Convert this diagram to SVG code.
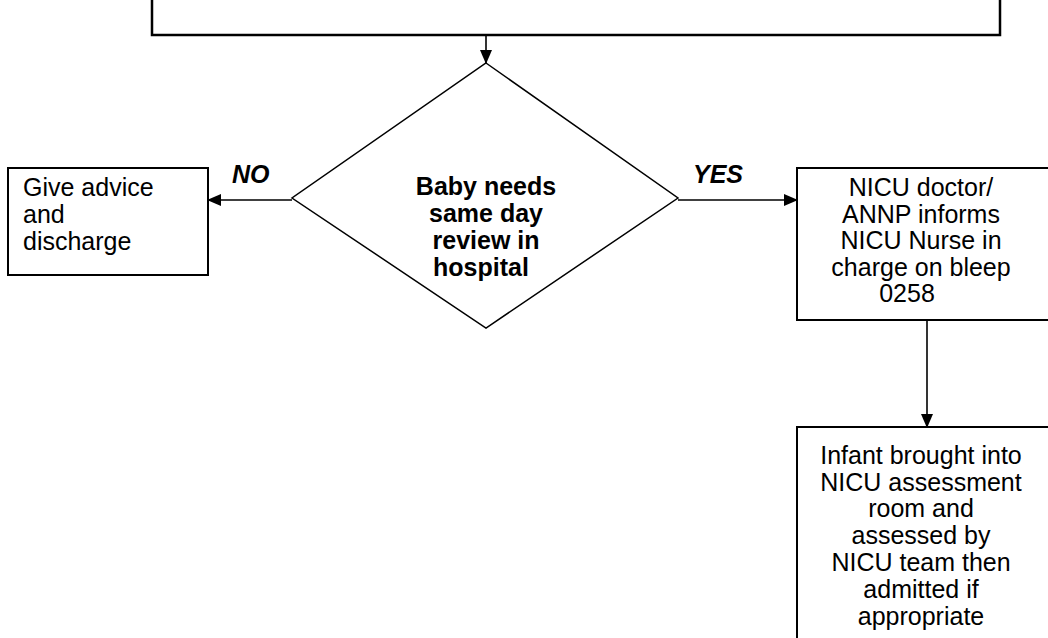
<svg xmlns="http://www.w3.org/2000/svg" width="1048" height="638" viewBox="0 0 1048 638">
<defs>
<marker id="ah" markerWidth="14" markerHeight="12" refX="13" refY="6" orient="auto" markerUnits="userSpaceOnUse">
<path d="M0,0 L14,6 L0,12 Z" fill="#000"/>
</marker>
<style>
.box{fill:#fff;stroke:#000;stroke-width:2}
.t{font-family:"Liberation Sans",Arial,sans-serif;font-size:25px;fill:#000}
.c{text-anchor:middle}
.b{font-weight:bold}
.bi{font-weight:bold;font-style:italic}
.ln{stroke:#000;stroke-width:1.6;fill:none}
</style>
</defs>
<rect width="1048" height="638" fill="#fff"/>
<g id="top-box">
<rect class="box" style="stroke-width:2.5" x="152" y="-10" width="848" height="45"/>
</g>
<g id="decision">
<polygon class="box" style="stroke-width:1.5" points="486,63 678,198 486,328 292,198"/>
<text class="t b c" x="486" y="195">Baby needs</text>
<text class="t b c" x="486" y="222">same day</text>
<text class="t b c" x="486" y="249">review in</text>
<text class="t b c" x="481" y="276">hospital</text>
</g>
<g id="discharge">
<rect class="box" x="8" y="168" width="200" height="107"/>
<text class="t" x="23" y="196">Give advice</text>
<text class="t" x="23" y="223">and</text>
<text class="t" x="23" y="250">discharge</text>
</g>
<g id="inform">
<rect class="box" x="797" y="168" width="260" height="152"/>
<text class="t c" x="921" y="196">NICU doctor/</text>
<text class="t c" x="921" y="223">ANNP informs</text>
<text class="t c" x="921" y="249">NICU Nurse in</text>
<text class="t c" x="921" y="276">charge on bleep</text>
<text class="t c" x="907" y="302">0258</text>
</g>
<g id="assess">
<rect class="box" x="797" y="427" width="260" height="220"/>
<text class="t c" x="921" y="464">Infant brought into</text>
<text class="t c" x="921" y="491">NICU assessment</text>
<text class="t c" x="921" y="517">room and</text>
<text class="t c" x="921" y="544">assessed by</text>
<text class="t c" x="921" y="571">NICU team then</text>
<text class="t c" x="921" y="598">admitted if</text>
<text class="t c" x="921" y="625">appropriate</text>
</g>
<g id="connectors">
<line class="ln" x1="486" y1="35" x2="486" y2="63" marker-end="url(#ah)"/>
<line class="ln" x1="292" y1="200" x2="208" y2="200" marker-end="url(#ah)"/>
<line class="ln" x1="678" y1="200" x2="797" y2="200" marker-end="url(#ah)"/>
<line class="ln" x1="927" y1="320" x2="927" y2="427" marker-end="url(#ah)"/>
<text class="t bi" x="232" y="183">NO</text>
<text class="t bi" x="693" y="183">YES</text>
</g>
</svg>
